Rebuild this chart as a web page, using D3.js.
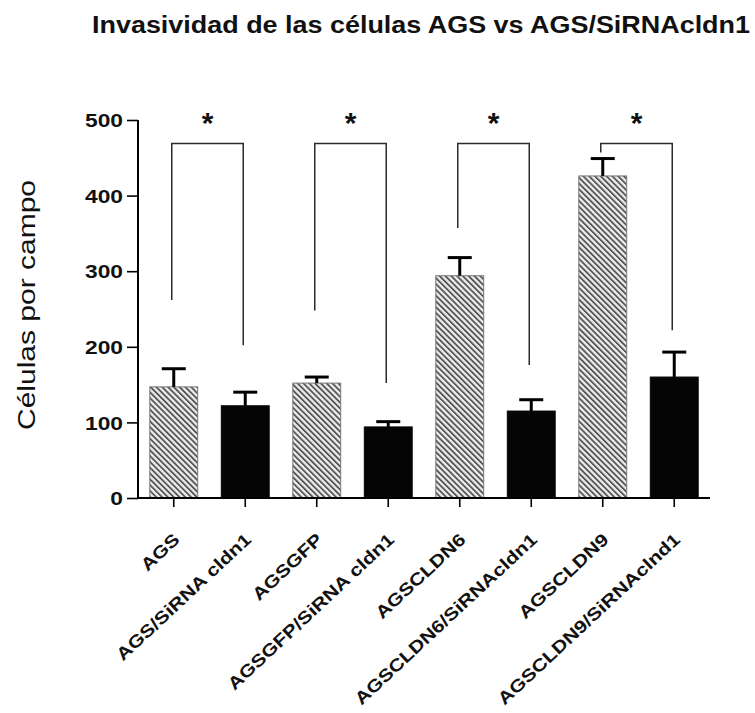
<!DOCTYPE html>
<html>
<head>
<meta charset="utf-8">
<script src="https://cdn.jsdelivr.net/npm/d3@7"></script>
<style>
  html, body { margin: 0; padding: 0; background: #fff; }
  svg { display: block; font-family: "Liberation Sans", Arial, Helvetica, sans-serif; }
</style>
</head>
<body>
<svg id="chart" width="755" height="713"></svg>
<script>
// Cell lines, mean invading cells per field and the error bar (SEM)
const categories = [
  "AGS", "AGS/SiRNA cldn1", "AGSGFP", "AGSGFP/SiRNA cldn1",
  "AGSCLDN6", "AGSCLDN6/SiRNAcldn1", "AGSCLDN9", "AGSCLDN9/SiRNAclnd1"
];
const means  = [147, 122, 152, 94, 294, 115, 426, 160];
const errors = [24, 18, 8, 7, 24, 15, 23, 33];
// true = hatched control bar, false = solid siRNA bar
const hatched = [true, false, true, false, true, false, true, false];
const yTicks = [0, 100, 200, 300, 400, 500];

// Significance brackets: pair of bar indices, bracket top and leg ends (in data units)
const bracketPairs = [[0, 1], [2, 3], [4, 5], [6, 7]];
const bracketTop   = 469;
const legLeftEnd   = [262, 248, 357, 457];
const legRightEnd  = [202, 152, 176, 222];
const bracketLabel = ["*", "*", "*", "*"];

const titleText = "Invasividad de las células AGS vs AGS/SiRNAcldn1";
const yTitle = "Células por campo";

const svg = d3.select("#chart");

const x = d3.scaleBand()
  .domain(categories)
  .range([138, 710])
  .paddingInner(0.33)
  .paddingOuter(0.165);

const y = d3.scaleLinear().domain([0, 500]).range([498, 120]);

// Stretch a text element horizontally by a factor (the chart's lettering is wide)
function widen(sel, k) {
  sel.each(function () {
    const len = this.getComputedTextLength();
    d3.select(this).attr("textLength", len * k).attr("lengthAdjust", "spacingAndGlyphs");
  });
}

// Diagonal hatch pattern for control bars
const defs = svg.append("defs");
const pat = defs.append("pattern")
  .attr("id", "hatch")
  .attr("patternUnits", "userSpaceOnUse")
  .attr("width", 4.1)
  .attr("height", 4.1)
  .attr("patternTransform", "rotate(-45)");
pat.append("rect").attr("width", 4.1).attr("height", 4.1).attr("fill", "#ececec");
pat.append("rect").attr("x", 0).attr("y", 0).attr("width", 1.8).attr("height", 4.1).attr("fill", "#555");

// Title
svg.append("text")
  .attr("x", 92)
  .attr("y", 33)
  .attr("font-size", 23)
  .attr("font-weight", "bold")
  .attr("fill", "#111")
  .attr("textLength", 658)
  .attr("lengthAdjust", "spacingAndGlyphs")
  .text(titleText);

// Y axis title
svg.append("text")
  .attr("transform", "translate(35," + (y(250) - 4) + ") rotate(-90)")
  .attr("text-anchor", "middle")
  .attr("font-size", 23)
  .attr("fill", "#111")
  .attr("textLength", 250)
  .attr("lengthAdjust", "spacingAndGlyphs")
  .text(yTitle);

// Bars
const bars = svg.append("g");
bars.selectAll("rect")
  .data(categories)
  .join("rect")
  .attr("x", d => x(d))
  .attr("width", x.bandwidth())
  .attr("y", (d, i) => y(means[i]))
  .attr("height", (d, i) => y(0) - y(means[i]))
  .attr("fill", (d, i) => hatched[i] ? "url(#hatch)" : "#050505")
  .attr("stroke", (d, i) => hatched[i] ? "#777" : "#050505")
  .attr("stroke-width", 1);

// Error bars (upper only)
const err = svg.append("g").attr("stroke", "#000");
categories.forEach((c, i) => {
  const cx = x(c) + x.bandwidth() / 2;
  err.append("line")
    .attr("x1", cx).attr("x2", cx)
    .attr("y1", y(means[i])).attr("y2", y(means[i] + errors[i]))
    .attr("stroke-width", 3);
  err.append("line")
    .attr("x1", cx - 12).attr("x2", cx + 12)
    .attr("y1", y(means[i] + errors[i])).attr("y2", y(means[i] + errors[i]))
    .attr("stroke-width", 3);
});

// Y axis
const yAxis = svg.append("g")
  .attr("transform", "translate(138,0)")
  .call(d3.axisLeft(y).tickValues(yTicks).tickSize(11).tickPadding(4).tickFormat(d3.format("d")));
yAxis.select(".domain").attr("stroke", "#000").attr("stroke-width", 2).attr("d", "M0,120V498");
yAxis.selectAll(".tick line").attr("stroke", "#000").attr("stroke-width", 1.6);
yAxis.selectAll(".tick text")
  .attr("font-size", 18.7)
  .attr("font-weight", "bold")
  .attr("fill", "#111")
  .attr("font-family", "Liberation Sans, Arial, sans-serif")
  .attr("dy", "0.36em")
  .call(widen, 1.22);

// X axis
const xAxis = svg.append("g")
  .attr("transform", "translate(0,498)")
  .call(d3.axisBottom(x).tickSize(9).tickFormat(""));
xAxis.select(".domain").attr("stroke", "#000").attr("stroke-width", 2).attr("d", "M138,0H710");
xAxis.selectAll(".tick line").attr("stroke", "#000").attr("stroke-width", 1.6);

// Rotated category labels
svg.append("g").selectAll("text")
  .data(categories)
  .join("text")
  .attr("transform", d => "translate(" + (x(d) + x.bandwidth() / 2 + 7) + ",541) rotate(-43)")
  .attr("text-anchor", "end")
  .attr("font-size", 17.5)
  .attr("font-weight", "bold")
  .attr("fill", "#111")
  .text(d => d)
  .call(widen, 1.2);

// Significance brackets
const br = svg.append("g").attr("fill", "none").attr("stroke", "#2a2a2a").attr("stroke-width", 1.5);
bracketPairs.forEach((p, k) => {
  const xl = x(categories[p[0]]) + x.bandwidth() / 2 - 2;
  const xr = x(categories[p[1]]) + x.bandwidth() / 2 - 2;
  br.append("path")
    .attr("d", "M" + xl + "," + y(legLeftEnd[k]) + "V" + y(bracketTop) + "H" + xr + "V" + y(legRightEnd[k]));
  svg.append("text")
    .attr("x", (xl + xr) / 2)
    .attr("y", y(bracketTop) - 10)
    .attr("text-anchor", "middle")
    .attr("font-size", 30)
    .attr("font-weight", "bold")
    .attr("fill", "#111")
    .text(bracketLabel[k]);
});
</script>
</body>
</html>
